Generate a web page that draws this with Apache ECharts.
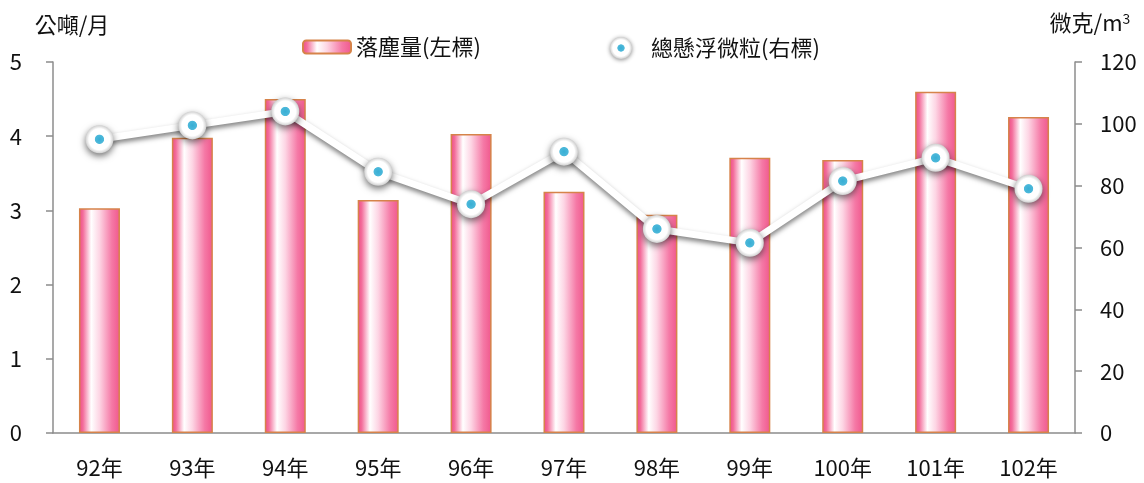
<!DOCTYPE html>
<html>
<head>
<meta charset="utf-8">
<script src="https://cdn.jsdelivr.net/npm/echarts@6/dist/echarts.min.js"></script>
<style>
  html, body { margin: 0; padding: 0; background: #fff; }
  #chart { width: 1144px; height: 483px; }
</style>
</head>
<body>
<div id="chart"></div>
<script>
// 落塵量 vs 總懸浮微粒, 92-102年
const years = ['92年', '93年', '94年', '95年', '96年', '97年', '98年', '99年', '100年', '101年', '102年']
const dustfall = [3.03, 3.98, 4.50, 3.14, 4.03, 3.25, 2.94, 3.71, 3.68, 4.60, 4.26]
const tsp = [95, 99.5, 104, 84.5, 74, 91, 66, 61.5, 81.5, 89, 79]

const font = '"Noto Sans CJK TC", "Noto Sans", sans-serif'
const axisGray = '#8c8c8c'

const chart = echarts.init(document.getElementById('chart'))

const barFill = new echarts.graphic.LinearGradient(0, 0, 1, 0, [
  { offset: 0, color: '#ee4a82' },
  { offset: 0.1, color: '#f36e9c' },
  { offset: 0.3, color: '#ffffff' },
  { offset: 0.5, color: '#fdd5e4' },
  { offset: 0.8, color: '#f579a6' },
  { offset: 1, color: '#f0578c' }
])

const dotFill = new echarts.graphic.RadialGradient(0.5, 0.5, 0.5, [
  { offset: 0, color: '#38aed4' },
  { offset: 0.3, color: '#4cb8da' },
  { offset: 0.36, color: '#ffffff' },
  { offset: 0.75, color: '#ffffff' },
  { offset: 1, color: '#cfcfcf' }
])

const option = {
  animation: false,
  textStyle: { fontFamily: font },
  grid: { left: 53, right: 69, top: 62, bottom: 50 },
  legend: [{
    data: ['落塵量(左標)'],
    left: 297, top: 31,
    itemWidth: 48, itemHeight: 13, itemGap: 6,
    textStyle: { fontSize: 22, color: '#111', fontFamily: font }
  }, {
    data: [{ name: '總懸浮微粒(右標)', icon: 'circle' }],
    left: 605, top: 32,
    itemWidth: 22, itemHeight: 22, itemGap: 6,
    itemStyle: { shadowColor: 'rgba(0,0,0,0.45)', shadowBlur: 4, shadowOffsetY: 1 },
    textStyle: { fontSize: 22, color: '#111', fontFamily: font, padding: [0, 0, 0, 14] }
  }],
  xAxis: {
    type: 'category',
    data: years,
    axisLine: { lineStyle: { color: axisGray, width: 1.5 } },
    axisTick: { length: 8, lineStyle: { color: axisGray, width: 1.5 } },
    axisLabel: { fontSize: 22, color: '#111', margin: 24 }
  },
  yAxis: [{
    type: 'value',
    min: 0, max: 5, interval: 1,
    name: '公噸/月',
    nameLocation: 'end',
    nameGap: 26,
    nameTextStyle: { fontSize: 22, color: '#111', align: 'center', padding: [0, 0, 0, 38] },
    axisLine: { show: true, lineStyle: { color: axisGray, width: 1.5 } },
    axisTick: { show: true, length: 7, lineStyle: { color: axisGray, width: 1.5 } },
    axisLabel: { fontSize: 22, color: '#111', margin: 31 },
    splitLine: { show: false }
  }, {
    type: 'value',
    min: 0, max: 120, interval: 20,
    name: '微克/m{sup|3}',
    nameLocation: 'end',
    nameGap: 28,
    nameTextStyle: {
      fontSize: 22, color: '#111', align: 'center', padding: [0, 0, 0, 30],
      rich: { sup: { fontSize: 14, color: '#111', verticalAlign: 'top', padding: [0, 0, 8, 0] } }
    },
    axisLine: { show: true, lineStyle: { color: axisGray, width: 1.5 } },
    axisTick: { show: true, length: 7, lineStyle: { color: axisGray, width: 1.5 } },
    axisLabel: { fontSize: 22, color: '#111', margin: 25 },
    splitLine: { show: false }
  }],
  series: [{
    name: '落塵量(左標)',
    type: 'bar',
    yAxisIndex: 0,
    data: dustfall,
    barWidth: 41,
    itemStyle: { color: barFill, borderColor: '#d6834a', borderWidth: 1.5 }
  }, {
    name: '總懸浮微粒(右標)',
    type: 'line',
    yAxisIndex: 1,
    data: tsp,
    symbol: 'circle',
    symbolSize: 28,
    lineStyle: {
      color: '#ffffff', width: 7,
      shadowColor: 'rgba(0,0,0,0.5)', shadowBlur: 5, shadowOffsetY: 3
    },
    itemStyle: {
      color: dotFill,
      shadowColor: 'rgba(0,0,0,0.55)', shadowBlur: 7, shadowOffsetY: 3
    }
  }]
}

chart.setOption(option)
</script>
</body>
</html>
